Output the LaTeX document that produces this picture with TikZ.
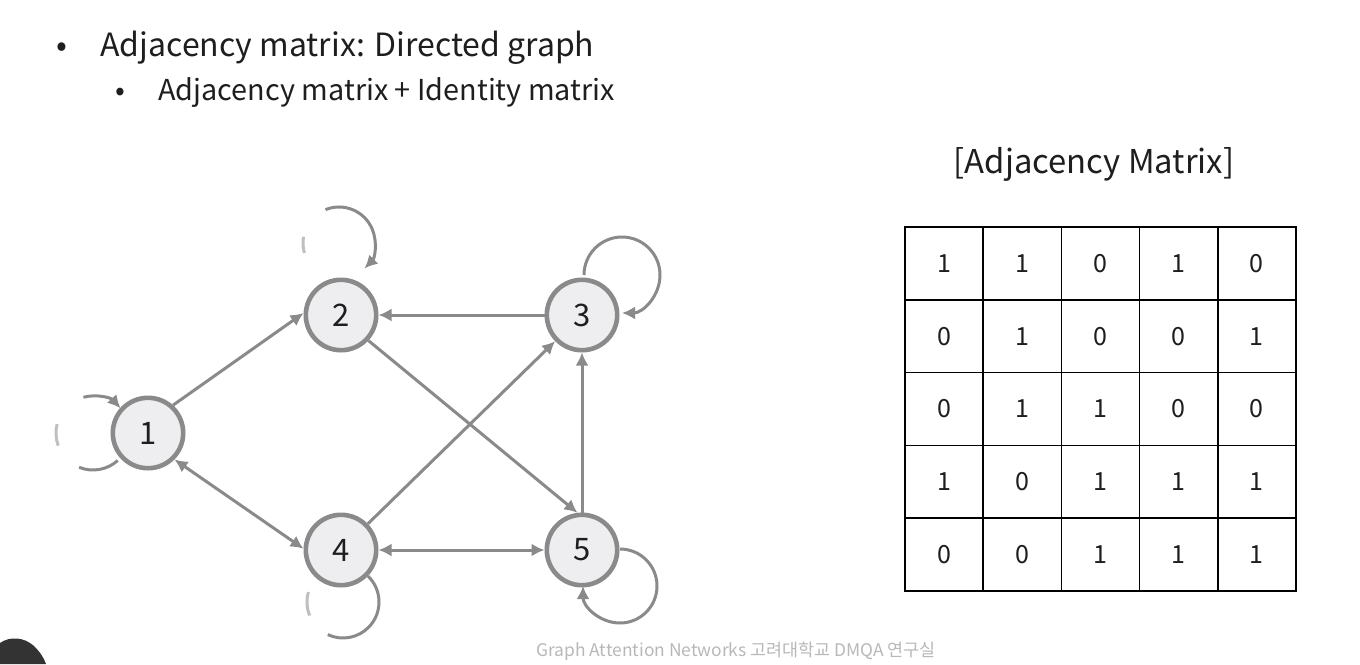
\documentclass[tikz,border=0pt]{standalone}
\usepackage{fontspec}
\setmainfont{Noto Sans CJK KR}
\usetikzlibrary{arrows.meta}
\definecolor{edgegray}{HTML}{8A8A8A}
\definecolor{nodefill}{HTML}{EEEDF0}
\definecolor{ink}{HTML}{1E1E1E}
\definecolor{footgray}{HTML}{B8B8B8}
\definecolor{shadow}{HTML}{333333}

\begin{document}
\begin{tikzpicture}[x=0.5pt,y=-0.5pt,
  vertex/.style={circle, draw=edgegray, line width=2.3pt, fill=nodefill,
    minimum size=35.2pt, inner sep=0pt, text=ink,
    font=\fontsize{15.5}{15.5}\selectfont},
  link/.style={draw=edgegray, line width=1.5pt,
    -{Latex[length=6.5pt,width=6.5pt]}},
  bilink/.style={link, {Latex[length=6.5pt,width=6.5pt]}-{Latex[length=6.5pt,width=6.5pt]}},
  selfloop/.style={draw=edgegray, line width=1.5pt},
  faded/.style={draw=edgegray!55, line width=1.5pt},
  cell/.style={rectangle, draw=black, line width=0.75pt, inner sep=0pt,
    minimum width=39.1pt, minimum height=36.4pt, text=ink,
    font=\fontsize{12.5}{12.5}\selectfont},
  txt/.style={inner sep=0pt, text=ink},
]
\useasboundingbox (0,0) rectangle (1360,664);
\fill[white] (0,0) rectangle (1360,664);

% heading bullets
\node[txt, anchor=base, font=\fontsize{16}{16}\selectfont] (b1) at (62,56) {•};
\node[txt, anchor=base west, font=\fontsize{16}{16}\selectfont] (h1) at (100,56) {Adjacency matrix: Directed graph};
\node[txt, anchor=base, font=\fontsize{14.4}{14.4}\selectfont] (b2) at (120,100) {•};
\node[txt, anchor=base west, font=\fontsize{14.4}{14.4}\selectfont] (h2) at (158,100) {Adjacency matrix + Identity matrix};

% graph vertices
\node[vertex] (n1) at (148,433) {1};
\node[vertex] (n2) at (341,315) {2};
\node[vertex] (n3) at (582,315) {3};
\node[vertex] (n4) at (341,550) {4};
\node[vertex] (n5) at (582,550) {5};

% directed edges
\draw[link] (n1.48) -- (n2.177);
\draw[link] (n3) -- (n2);
\draw[link] (n2.-43) -- (n5.97);
\draw[link] (n4) -- (n3);
\draw[link] (n5) -- (n3);
\draw[bilink] (n1.-45) -- (n4.178);
\draw[bilink] (n4) -- (n5);

% self loops
\coordinate (l1) at (93,433);
\coordinate (l2) at (339,243);
\coordinate (l3) at (622,275);
\coordinate (l4) at (343,602);
\coordinate (l5) at (620,586);

\draw[selfloop, -{Latex[length=6.5pt,width=6.5pt]}] ([shift={(105:18.5pt)}]l1) arc[start angle=105, end angle=42, radius=18.5pt];
\draw[selfloop] ([shift={(248:18.5pt)}]l1) arc[start angle=248, end angle=312, radius=18.5pt];
\draw[faded] ([shift={(166:18.5pt)}]l1) arc[start angle=166, end angle=200, radius=18.5pt];

\draw[selfloop, -{Latex[length=6.5pt,width=6.5pt]}] ([shift={(112:18pt)}]l2) arc[start angle=112, end angle=-45, radius=18pt];
\draw[faded] ([shift={(170:18pt)}]l2) arc[start angle=170, end angle=196, radius=18pt];

\draw[selfloop, -{Latex[length=6.5pt,width=6.5pt]}] ([shift={(180:19pt)}]l3) arc[start angle=180, end angle=-90, radius=19pt];

\draw[selfloop] ([shift={(46:18pt)}]l4) arc[start angle=46, end angle=-115, radius=18pt];
\draw[faded] ([shift={(164:18pt)}]l4) arc[start angle=164, end angle=202, radius=18pt];

\draw[selfloop, -{Latex[length=6.5pt,width=6.5pt]}] ([shift={(90:18.5pt)}]l5) arc[start angle=90, end angle=-180, radius=18.5pt];

% matrix
\node[txt, anchor=base, font=\fontsize{16.4}{16.4}\selectfont] (title) at (1094,173) {[Adjacency Matrix]};
\foreach \row [count=\i] in {{1,1,0,1,0},{0,1,0,0,1},{0,1,1,0,0},{1,0,1,1,1},{0,0,1,1,1}} {
  \foreach \v [count=\j] in \row {
    \node[cell] (m-\i-\j) at ({905+78.2*(\j-0.5)}, {227+72.8*(\i-0.5)}) {\v};
  }
}

% footer
\node[inner sep=0pt, anchor=base, text=footgray, font=\fontsize{8.7}{8.7}\selectfont] (foot) at (736,656) {Graph Attention Networks 고려대학교 DMQA 연구실};

% dark shape in the lower left corner
\fill[shadow] (0,643) .. controls (10,636) and (24,637) .. (34,646) .. controls (40,652) and (44,658) .. (46,664) -- (0,664) -- cycle;
\end{tikzpicture}
\end{document}
